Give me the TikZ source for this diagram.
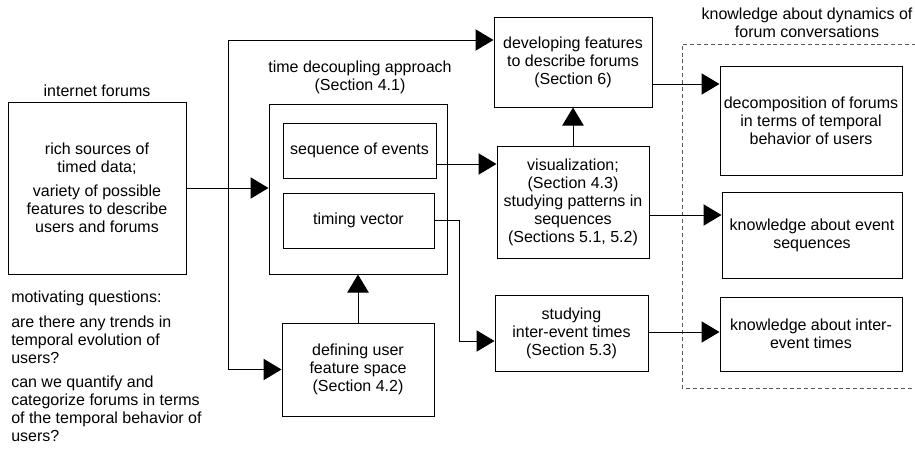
\documentclass[tikz,border=0pt]{standalone}
\usepackage{fontspec}
\setmainfont{Liberation Sans}
\usetikzlibrary{arrows.meta,calc}
\tikzset{
  txt/.style={font=\fontsize{12}{13.5}\selectfont, inner sep=0pt},
  box/.style={txt, draw, line width=0.75pt, align=center},
  arr/.style={line width=0.75pt, -{Triangle[length=13.5pt,width=16pt]}},
  ln/.style={line width=0.75pt},
  grp/.style={line width=0.75pt, draw=black!65, dash pattern=on 3pt off 2.2pt},
}
\begin{document}
\begin{tikzpicture}[x=0.75pt,y=-0.75pt]
\useasboundingbox (0,0) rectangle (915,450);
% boxes
\node[box, minimum width=178*0.75pt, minimum height=172*0.75pt] (forum) at (97,188)
  {rich sources of\\timed data;\\[4.5pt]variety of possible\\features to describe\\users and forums};
\node[txt] (forumT) at (97,91) {internet forums};
\node[box, minimum width=178*0.75pt, minimum height=170*0.75pt] (tda) at (358,189) {};
\node[txt, align=center] (tdaT) at (360,77) {time decoupling approach\\(Section 4.1)};
\node[box, minimum width=153*0.75pt, minimum height=55*0.75pt] (seq) at (359.5,150.5) {sequence of events};
\node[box, minimum width=151*0.75pt, minimum height=55*0.75pt] (timing) at (358.5,220.5) {timing vector};
\node[box, minimum width=152*0.75pt, minimum height=93*0.75pt] (define) at (358,369.5)
  {defining user\\feature space\\(Section 4.2)};
\node[box, minimum width=158*0.75pt, minimum height=90*0.75pt] (develop) at (573,62)
  {developing features\\to describe forums\\(Section 6)};
\node[box, minimum width=152*0.75pt, minimum height=112*0.75pt] (vis) at (573,202)
  {visualization;\\(Section 4.3)\\studying patterns in\\sequences\\(Sections 5.1, 5.2)};
\node[box, minimum width=153*0.75pt, minimum height=76*0.75pt] (study) at (571.5,333)
  {studying\\inter-event times\\(Section 5.3)};
\node[box, minimum width=182*0.75pt, minimum height=109*0.75pt] (decomp) at (811,120.5)
  {decomposition of forums\\in terms of temporal\\behavior of users};
\node[box, minimum width=180*0.75pt, minimum height=86*0.75pt] (kes) at (812,235)
  {knowledge about event\\sequences};
\node[box, minimum width=182*0.75pt, minimum height=74*0.75pt] (kit) at (811,334)
  {knowledge about inter-\\event times};
\node[txt, align=center] (grpT) at (807,22.5) {knowledge about dynamics of\\forum conversations};
\node[txt, align=left, anchor=north west] (motiv) at (11,290.5)
  {motivating questions:\\[5pt]are there any trends in\\temporal evolution of\\users?\\[5pt]can we quantify and\\categorize forums in terms\\of the temporal behavior of\\users?};
% dashed group
\coordinate (gtl) at (682,44);
\coordinate (gbl) at (682,388);
\draw[grp] (930,44) -- (gtl) -- (gbl) -- (930,388);
% connectors
\draw[arr] (forum.east) -- (forum.east -| tda.west);
\coordinate (j) at (228,188);
\coordinate (jt) at (228,40);
\coordinate (jb) at (228,369.5);
\draw[arr] (j) -- (jt) -- (jt -| develop.west);
\draw[arr] (j) -- (jb) -- (jb -| define.west);
\draw[arr] (define.north) -- (tda.south);
\coordinate (s1) at (seq.east |- 0,164);
\draw[arr] (s1) -- (s1 -| vis.west);
\coordinate (tb) at (459,341);
\draw[arr] (timing.east) -| (tb) -- (tb -| study.west);
\draw[arr] (vis.north) -- (develop.south);
\coordinate (d1) at (develop.east |- 0,84);
\draw[arr] (d1) -- (d1 -| decomp.west);
\coordinate (v1) at (vis.east |- 0,215);
\draw[arr] (v1) -- (v1 -| kes.west);
\coordinate (st1) at (study.east |- 0,332);
\draw[arr] (st1) -- (st1 -| kit.west);
\end{tikzpicture}
\end{document}
